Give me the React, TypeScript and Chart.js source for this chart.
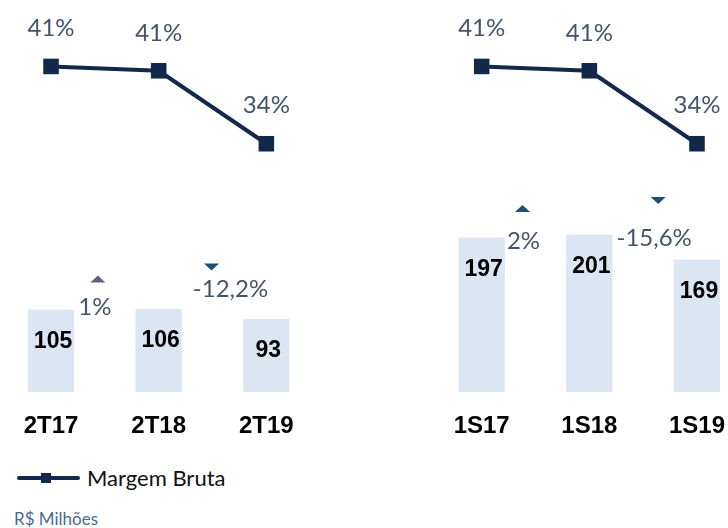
import React, { useEffect, useRef } from 'react';
import { Chart, registerables } from 'chart.js';

Chart.register(...registerables);

// ---- data ----
const periods = ['2T17', '2T18', '2T19', '1S17', '1S18', '1S19'];
const slots = [0, 1, 2, 4, 5, 6];
const grossProfit = [105, 106, 93, 197, 201, 169];
const grossMargin = [41.4, 41.0, 34.3, 41.4, 41.0, 34.3];
const marginLabels = ['41%', '41%', '34%', '41%', '41%', '34%'];
const changePairs = [[0, 1], [1, 2], [3, 4], [4, 5]];
const changeLabels = ['1%', '-12,2%', '2%', '-15,6%'];
const changeDirections = ['up', 'down', 'up', 'down'];

// ---- annotation layout (pixel offsets, styles) ----
const changeLayout = [
  { tdx: -7, tdy: -30, ldx: -10, ldy: -2, color: '#5b6778' },
  { tdx: -1, tdy: -42, ldx: 18, ldy: -20, color: '#1f4e79' },
  { tdx: -13, tdy: -26, ldx: -12, ldy: 7, color: '#1f4e79' },
  { tdx: 15, tdy: -34, ldx: 11, ldy: 4, color: '#1f4e79' },
];

const NAVY = '#13294b';
const BAR = '#dce6f2';
const PCT = '#44546a';

const lineData: { x: number; y: number | null }[] = [];
slots.forEach((s, i) => {
  if (i === 3) lineData.push({ x: 3, y: null });
  lineData.push({ x: s, y: grossMargin[i] });
});
const barData = slots.map((s, i) => ({ x: s, y: grossProfit[i] }));

const labelPlugin = {
  id: 'customLabels',
  afterDatasetsDraw(chart: any) {
    const ctx = chart.ctx;
    const lineMeta = chart.getDatasetMeta(0);
    const barMeta = chart.getDatasetMeta(1);
    ctx.save();
    ctx.textAlign = 'center';
    ctx.textBaseline = 'middle';

    // margin labels
    ctx.font = '24px Lato';
    ctx.fillStyle = PCT;
    periods.forEach((_, i) => {
      const pt = lineMeta.data[i < 3 ? i : i + 1];
      ctx.fillText(marginLabels[i], pt.x, pt.y - 38);
    });

    // bar value labels
    ctx.font = 'bold 23px "Liberation Sans", Arial';
    ctx.fillStyle = '#000';
    periods.forEach((_, i) => {
      const b = barMeta.data[i];
      ctx.fillText(String(grossProfit[i]), b.x + 2, b.y + 32);
    });

    // change annotations
    changePairs.forEach(([a, b], k) => {
      const ba = barMeta.data[a];
      const bb = barMeta.data[b];
      const mx = (ba.x + bb.x) / 2;
      const top = Math.min(ba.y, bb.y);
      const L = changeLayout[k];
      const tx = mx + L.tdx;
      const ty = top + L.tdy;
      const w = 15;
      const h = 7;
      ctx.fillStyle = L.color;
      ctx.beginPath();
      if (changeDirections[k] === 'up') {
        ctx.moveTo(tx - w / 2, ty + h / 2);
        ctx.lineTo(tx + w / 2, ty + h / 2);
        ctx.lineTo(tx, ty - h / 2);
      } else {
        ctx.moveTo(tx - w / 2, ty - h / 2);
        ctx.lineTo(tx + w / 2, ty - h / 2);
        ctx.lineTo(tx, ty + h / 2);
      }
      ctx.closePath();
      ctx.fill();
      ctx.font = '24px Lato';
      ctx.fillStyle = PCT;
      ctx.fillText(changeLabels[k], mx + L.ldx, top + L.ldy);
    });
    ctx.restore();
  },
};

export default function App() {
  const ref = useRef<HTMLCanvasElement | null>(null);

  useEffect(() => {
    if (!ref.current) return;
    const chart = new Chart(ref.current, {
      type: 'bar',
      data: {
        datasets: [
          {
            type: 'line',
            label: 'Margem Bruta',
            data: lineData as any,
            yAxisID: 'y2',
            borderColor: NAVY,
            backgroundColor: NAVY,
            borderWidth: 4,
            pointStyle: 'rect',
            pointRadius: 11,
            pointBackgroundColor: NAVY,
            pointBorderColor: NAVY,
            pointBorderWidth: 0,
            spanGaps: false,
            order: 0,
            clip: false as any,
          } as any,
          {
            type: 'bar',
            label: 'Lucro Bruto',
            data: barData as any,
            yAxisID: 'y',
            backgroundColor: BAR,
            borderWidth: 0,
            barPercentage: 0.43,
            categoryPercentage: 1,
            order: 1,
          } as any,
        ],
      },
      options: {
        animation: false,
        responsive: false,
        devicePixelRatio: 1,
        layout: { padding: 0, autoPadding: false },
        plugins: {
          legend: { display: false },
          tooltip: { enabled: false },
        },
        scales: {
          x: {
            type: 'linear',
            offset: false,
            min: -0.474,
            max: 6.288,
            grid: { display: false, drawTicks: false },
            border: { display: false },
            afterBuildTicks: (scale: any) => {
              scale.ticks = slots.map((v) => ({ value: v }));
            },
            afterFit: (scale: any) => {
              scale.height = 53;
              scale.paddingLeft = 0;
              scale.paddingRight = 0;
            },
            ticks: {
              autoSkip: false,
              maxRotation: 0,
              padding: 20,
              color: '#000',
              font: { family: '"Liberation Sans", Arial', size: 24, weight: 'bold' },
              callback: (value: any) => {
                const idx = slots.indexOf(Number(value));
                return idx >= 0 ? periods[idx] : '';
              },
            },
          },
          y: {
            display: false,
            min: 0,
            max: 500,
          },
          y2: {
            display: false,
            position: 'right',
            min: 11.5,
            max: 47.5,
          },
        },
      } as any,
      plugins: [labelPlugin],
    });
    return () => chart.destroy();
  }, []);

  return (
    <div style={{ position: 'absolute', left: 0, top: 0, width: 728, height: 528, background: '#fff', overflow: 'hidden' }}>
      <canvas ref={ref} width={728} height={445} style={{ display: 'block', width: 728, height: 445 }} />
      <div style={{ position: 'absolute', left: 17, top: 476, width: 63, height: 4, background: NAVY, borderRadius: 2 }} />
      <div style={{ position: 'absolute', left: 41, top: 473, width: 10, height: 10, background: NAVY }} />
      <div
        style={{
          position: 'absolute',
          left: 87,
          top: 464,
          fontFamily: 'Lato, sans-serif',
          fontSize: 22,
          lineHeight: '28px',
          color: '#111',
          whiteSpace: 'nowrap',
        }}
      >
        Margem Bruta
      </div>
      <div
        style={{
          position: 'absolute',
          left: 14,
          top: 509,
          fontFamily: 'Lato, sans-serif',
          fontSize: 17,
          lineHeight: '20px',
          color: '#4e6a8f',
          whiteSpace: 'nowrap',
        }}
      >
        R$ Milhões
      </div>
    </div>
  );
}
